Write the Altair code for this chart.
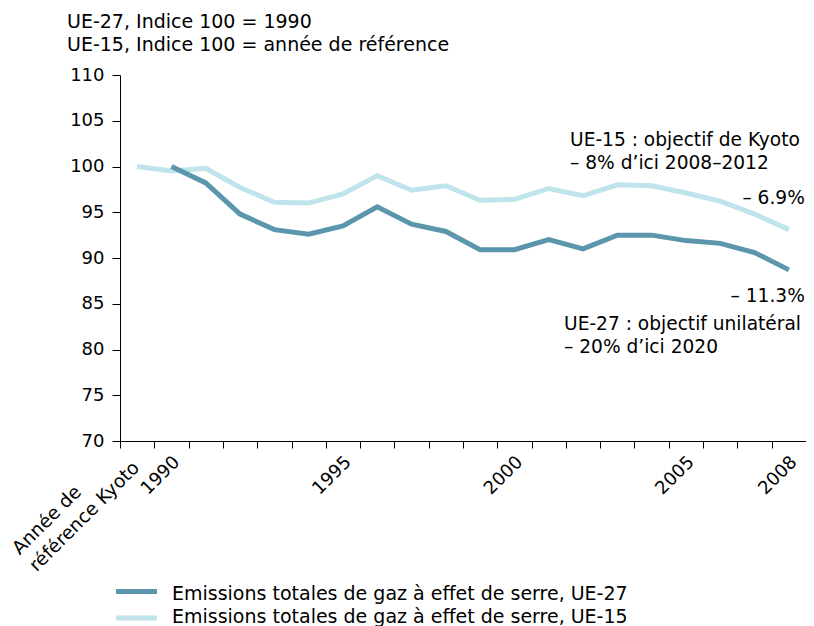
import altair as alt
import pandas as pd

categories = ["Réf", "1990", "1991", "1992", "1993", "1994", "1995", "1996", "1997", "1998",
              "1999", "2000", "2001", "2002", "2003", "2004", "2005", "2006", "2007", "2008"]
ref_label = ["Année de", "référence Kyoto"]
ue15 = [100.0, 99.5, 99.8, 97.7, 96.1, 96.0, 97.0, 99.0, 97.4, 97.9,
        96.3, 96.4, 97.6, 96.8, 98.0, 97.9, 97.1, 96.2, 94.8, 93.1]
ue27 = [None, 100.0, 98.2, 94.8, 93.1, 92.6, 93.5, 95.6, 93.7, 92.9,
        90.9, 90.9, 92.0, 91.0, 92.5, 92.5, 91.9, 91.6, 90.6, 88.7]
series_names = ["Emissions totales de gaz à effet de serre, UE-27",
                "Emissions totales de gaz à effet de serre, UE-15"]
colors = ["#5b96ac", "#bfe4eb"]
shown_labels = ["1990", "1995", "2000", "2005", "2008"]

rows = []
for c, a, b in zip(categories, ue27, ue15):
    if a is not None:
        rows.append({"cat": c, "val": a, "serie": series_names[0]})
    rows.append({"cat": c, "val": b, "serie": series_names[1]})
df = pd.DataFrame(rows)

FONT = "DejaVu Sans"
FS_AX = 18
FS = 19

label_expr = ("indexof([" + ",".join("'" + s + "'" for s in shown_labels) +
              "], datum.value) >= 0 ? datum.value : ''")

xscale = alt.Scale(domain=categories, paddingInner=0, paddingOuter=0)
yscale = alt.Scale(domain=[70, 110], nice=False, zero=False)

x = alt.X("cat:N", sort=categories, scale=xscale,
          axis=alt.Axis(title=None, tickBand="extent", labelAngle=315, labelAlign="right",
                        labelBaseline="middle", labelExpr=label_expr, labelFont=FONT,
                        labelFontSize=FS_AX, labelColor="#000000", domainColor="#000000",
                        tickColor="#000000", tickSize=7, labelPadding=11, labelOverlap=False,
                        labelOffset=5, grid=False, labelBound=False))
y = alt.Y("val:Q", scale=yscale,
          axis=alt.Axis(title=None, values=list(range(70, 111, 5)), labelFont=FONT,
                        labelFontSize=FS_AX, labelColor="#000000", domainColor="#000000",
                        tickColor="#000000", tickSize=8, labelPadding=8, grid=False))

lines = alt.Chart(df).mark_line(strokeWidth=5, strokeJoin="miter").encode(
    x=x, y=y,
    color=alt.Color("serie:N", sort=series_names,
                    scale=alt.Scale(domain=series_names, range=colors), legend=None),
    detail="serie:N",
)

# label of the reference-year category (two left-aligned lines)
ref_df = pd.DataFrame({"cat": [categories[0]], "val": [70], "txt": [ref_label]})
ref_text = alt.Chart(ref_df).mark_text(font=FONT, fontSize=18.6, align="left", baseline="alphabetic",
                                       angle=315, dx=-164, dy=-2, lineHeight=24, color="#000000").encode(
    x=alt.X("cat:N", sort=categories, scale=xscale),
    y=alt.Y("val:Q", scale=yscale),
    text="txt")

# annotations
ann_text = [["UE-15 : objectif de Kyoto", "– 8% d’ici 2008–2012"], ["– 6.9%"], ["– 11.3%"],
            ["UE-27 : objectif unilatéral", "– 20% d’ici 2020"]]
ann_cat = ["2002", "2008", "2008", "2002"]
ann_val = [103.9, 97.5, 86.8, 83.8]
ann_align = ["left", "right", "right", "left"]
ann_dx = [-13, 16, 16, -19]
ann_df = pd.DataFrame({"cat": ann_cat, "val": ann_val, "txt": ann_text})

def ann_layer(i):
    sub = ann_df.iloc[[i]]
    return alt.Chart(sub).mark_text(font=FONT, fontSize=18.6, align=ann_align[i], baseline="top",
                                    dx=ann_dx[i], lineHeight=23, color="#000000").encode(
        x=alt.X("cat:N", sort=categories, scale=xscale),
        y=alt.Y("val:Q", scale=yscale),
        text="txt")

header_lines = [["UE-27, Indice 100 = 1990", "UE-15, Indice 100 = année de référence"]]
header = alt.Chart(pd.DataFrame({"t": header_lines})).mark_text(
    font=FONT, fontSize=FS, align="left", baseline="top", lineHeight=23, color="#000000").encode(
    x=alt.value(-53), y=alt.value(-62), text="t")

# legend (drawn manually)
leg_layers = []
for i, (name, col) in enumerate(zip(series_names, colors)):
    ldf = pd.DataFrame({"serie": [name]})
    leg_layers.append(alt.Chart(ldf).mark_rule(strokeWidth=5, strokeCap="butt", color=col).encode(
        x=alt.value(-4), x2=alt.value(37), y=alt.value(516.5 + 26.5 * i)))
    leg_layers.append(alt.Chart(ldf).mark_text(font=FONT, fontSize=FS, align="left", baseline="middle",
                                               color="#000000").encode(
        x=alt.value(52), y=alt.value(518.5 + 23.5 * i), text="serie:N"))

chart = alt.layer(lines, ref_text, *[ann_layer(i) for i in range(4)], header, *leg_layers).properties(
    width=686, height=366,
    padding={"left": 112, "top": 67, "right": 0, "bottom": 190},
    autosize=alt.AutoSizeParams(type="none"),
).configure_view(stroke=None)

chart.save("out.html", embed_options={"renderer": "svg", "actions": False})
